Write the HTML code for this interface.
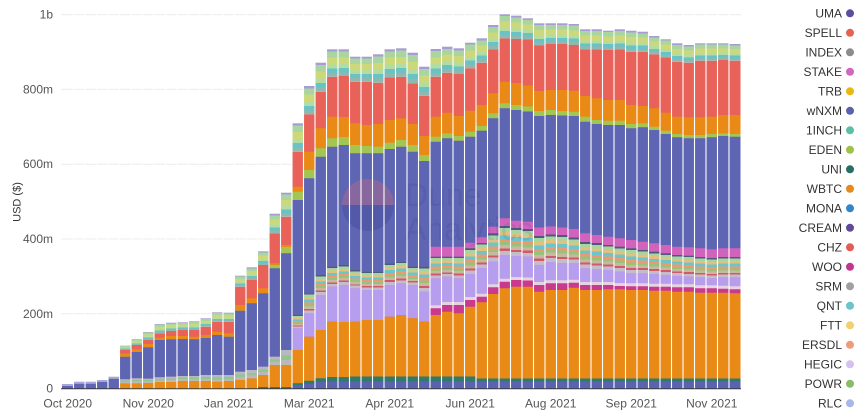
<!DOCTYPE html>
<html><head><meta charset="utf-8"><style>
html,body{margin:0;padding:0;background:#fff;}
svg{display:block;font-family:"Liberation Sans",sans-serif;}
</style></head><body>
<svg width="866" height="414" viewBox="0 0 866 414" xmlns="http://www.w3.org/2000/svg">
<defs>
<linearGradient id="tg" x1="0" y1="0" x2="0" y2="1">
<stop offset="0" stop-color="#a99bd6"/><stop offset=".08" stop-color="#a99bd6"/>
<stop offset=".08" stop-color="#a9d6a0"/><stop offset=".3" stop-color="#a9d6a0"/>
<stop offset=".3" stop-color="#cdd87a"/><stop offset=".55" stop-color="#cdd87a"/>
<stop offset=".55" stop-color="#b3dca3"/><stop offset=".7" stop-color="#b3dca3"/>
<stop offset=".7" stop-color="#69c2c4"/><stop offset=".86" stop-color="#69c2c4"/>
<stop offset=".86" stop-color="#8fb8b0"/><stop offset="1" stop-color="#8fb8b0"/>
</linearGradient>
<linearGradient id="mg" x1="0" y1="0" x2="0" y2="1">
<stop offset="0" stop-color="#4f5a7a"/><stop offset=".07" stop-color="#4f5a7a"/>
<stop offset=".07" stop-color="#a5d6a2"/><stop offset=".2" stop-color="#a5d6a2"/>
<stop offset=".2" stop-color="#e2c07e"/><stop offset=".32" stop-color="#e2c07e"/>
<stop offset=".32" stop-color="#6cc6c9"/><stop offset=".46" stop-color="#6cc6c9"/>
<stop offset=".46" stop-color="#ec9a73"/><stop offset=".56" stop-color="#ec9a73"/>
<stop offset=".56" stop-color="#96c37a"/><stop offset=".66" stop-color="#96c37a"/>
<stop offset=".66" stop-color="#c9b8a0"/><stop offset=".78" stop-color="#c9b8a0"/>
<stop offset=".78" stop-color="#d05a6a"/><stop offset=".86" stop-color="#d05a6a"/>
<stop offset=".86" stop-color="#c4bccb"/><stop offset="1" stop-color="#c4bccb"/>
</linearGradient>
<linearGradient id="m2" x1="0" y1="0" x2="0" y2="1">
<stop offset="0" stop-color="#b7b8c0"/><stop offset=".35" stop-color="#b7b8c0"/>
<stop offset=".35" stop-color="#94c58f"/><stop offset=".65" stop-color="#94c58f"/>
<stop offset=".65" stop-color="#b9b9bb"/><stop offset="1" stop-color="#b9b9bb"/>
</linearGradient>
</defs>

<g stroke="#ececec" stroke-width="1">
<line x1="61" y1="14.6" x2="741" y2="14.6"/>
<line x1="61" y1="89.4" x2="741" y2="89.4"/>
<line x1="61" y1="164.2" x2="741" y2="164.2"/>
<line x1="61" y1="239" x2="741" y2="239"/>
<line x1="61" y1="313.8" x2="741" y2="313.8"/>
</g>

<g font-size="12" fill="#555" text-anchor="end">
<text x="53" y="18.6">1b</text>
<text x="53" y="93.4">800m</text>
<text x="53" y="168.2">600m</text>
<text x="53" y="243">400m</text>
<text x="53" y="317.8">200m</text>
<text x="53" y="392.6">0</text>
</g>
<text transform="translate(20.5,202) rotate(-90)" font-size="11" fill="#333" text-anchor="middle">USD ($)</text>

<path fill="#e9625a" d="M62 388.5V386h11.5V383.7h11.5V383.7h11.5V382h11.5V378.7h11.5V350h11.5V345h11.5V340h11.5V333.3h11.5V331h11.5V330h11.5V330h11.5V326.7h11.5V321.7h11.5V321.7h11.5V286.7h11.5V280h11.5V265h11.5V233.3h11.5V216.7h11.5V151.7h11.5V114.3h11.5V91.7h11.5V76.7h11.5V76h11.5V81.7h11.5V81.7h11.5V82.7h11.5V77.3h11.5V76.7h11.5V83.3h11.5V95.7h11.5V76.7h11.5V72.7h11.5V74h11.5V68.3h11.5V62.7h11.5V49.3h11.5V38.3h11.5V39h11.5V39.5h11.5V45.5h11.5V44h11.5V44h11.5V45h11.5V49.3h11.5V49.3h11.5V50h11.5V49.3h11.5V51.7h11.5V51.7h11.5V54.3h11.5V57.3h11.5V61.7h11.5V62.7h11.5V60.7h11.5V60.7h11.5V60h11.5V60.7h11.5V388.5Z"/>
<path fill="#e98a16" d="M62 388.5V386h11.5V383.7h11.5V383.7h11.5V382h11.5V378.7h11.5V353.5h11.5V349.3h11.5V344h11.5V337.7h11.5V336h11.5V336h11.5V336.7h11.5V335h11.5V331.7h11.5V333.3h11.5V305h11.5V298.3h11.5V288.3h11.5V263.3h11.5V245h11.5V186.7h11.5V151.7h11.5V128.3h11.5V116.7h11.5V117h11.5V123.3h11.5V125h11.5V124h11.5V120h11.5V118.3h11.5V124h11.5V136h11.5V116.7h11.5V112.7h11.5V116h11.5V110.7h11.5V105h11.5V93.3h11.5V81.7h11.5V83h11.5V85.5h11.5V91h11.5V90h11.5V90h11.5V90.7h11.5V96h11.5V98.3h11.5V100h11.5V100h11.5V105h11.5V106h11.5V108.3h11.5V112.7h11.5V116.7h11.5V117.3h11.5V117.3h11.5V116.7h11.5V115h11.5V115h11.5V388.5Z"/>
<path fill="#a3c552" d="M62 388.5V386h11.5V383.7h11.5V383.7h11.5V382h11.5V378.7h11.5V356.7h11.5V352h11.5V347.3h11.5V340h11.5V339.3h11.5V339h11.5V339.3h11.5V338h11.5V335h11.5V336.7h11.5V310.7h11.5V303.3h11.5V293.3h11.5V265h11.5V247h11.5V191.7h11.5V170h11.5V148.3h11.5V138.3h11.5V137h11.5V145h11.5V146h11.5V146.7h11.5V142.7h11.5V140h11.5V145h11.5V155h11.5V136.7h11.5V133.3h11.5V136h11.5V131.7h11.5V126h11.5V113.3h11.5V103.3h11.5V105h11.5V106.5h11.5V111h11.5V110h11.5V111h11.5V111.7h11.5V116.7h11.5V120h11.5V120.7h11.5V120.7h11.5V124h11.5V123.3h11.5V126.7h11.5V130.7h11.5V134h11.5V135h11.5V135h11.5V134h11.5V133.3h11.5V134h11.5V388.5Z"/>
<path fill="#5e65b3" d="M62 388.5V386h11.5V383.7h11.5V383.7h11.5V382h11.5V378.7h11.5V356.7h11.5V352h11.5V347.3h11.5V340h11.5V339.3h11.5V339h11.5V339.3h11.5V338h11.5V335h11.5V336.7h11.5V310.7h11.5V303.3h11.5V293.3h11.5V268.3h11.5V253.3h11.5V200h11.5V178.3h11.5V156.7h11.5V146.7h11.5V145h11.5V153.3h11.5V153.3h11.5V153.3h11.5V149h11.5V146.7h11.5V151.7h11.5V161h11.5V141.7h11.5V138.3h11.5V140.7h11.5V136.7h11.5V130.7h11.5V118.3h11.5V108.3h11.5V110h11.5V111.5h11.5V116h11.5V115h11.5V115.5h11.5V116h11.5V121.7h11.5V124h11.5V125h11.5V125h11.5V128.3h11.5V127.3h11.5V130h11.5V134h11.5V137.3h11.5V138.3h11.5V138.3h11.5V137.3h11.5V136h11.5V136.7h11.5V388.5Z"/>
<path fill="#d263bd" d="M62 388.5h57.5V379.3h11.5V378.3h11.5V378.7h11.5V377.3h11.5V376.7h11.5V376h11.5V376h11.5V375h11.5V375h11.5V375h11.5V371.7h11.5V370h11.5V366.7h11.5V356.7h11.5V350h11.5V315h11.5V293.3h11.5V275h11.5V266.7h11.5V265h11.5V270h11.5V271.7h11.5V271.7h11.5V263.3h11.5V261.7h11.5V266.7h11.5V266.7h11.5V246.7h11.5V246.7h11.5V246.7h11.5V242.7h11.5V237.3h11.5V226.7h11.5V218.3h11.5V220.7h11.5V221.7h11.5V227.5h11.5V226.5h11.5V227.5h11.5V229h11.5V233.3h11.5V235h11.5V236.7h11.5V238.3h11.5V240h11.5V241.7h11.5V243.3h11.5V245h11.5V246.7h11.5V247.3h11.5V248.3h11.5V249.3h11.5V248.3h11.5V248.3h11.5V388.5Z"/>
<path fill="#b69ded" d="M62 388.5h57.5V383.3h11.5V383.3h11.5V383h11.5V382h11.5V382h11.5V381h11.5V381h11.5V381h11.5V381.7h11.5V381h11.5V380h11.5V378.3h11.5V375h11.5V365h11.5V365h11.5V328.3h11.5V313.3h11.5V295h11.5V286.7h11.5V285h11.5V288.3h11.5V290h11.5V290h11.5V285h11.5V283.3h11.5V285h11.5V291.7h11.5V278.3h11.5V276.7h11.5V278.3h11.5V274h11.5V268h11.5V261.7h11.5V255h11.5V256h11.5V256.7h11.5V265h11.5V262h11.5V263h11.5V263h11.5V268.3h11.5V269.3h11.5V270h11.5V271.7h11.5V273.3h11.5V273.3h11.5V274h11.5V275h11.5V276h11.5V276.7h11.5V277.3h11.5V278.3h11.5V277.3h11.5V277.3h11.5V388.5Z"/>
<path fill="#e6d3df" d="M62 388.5h57.5V383.3h11.5V383.3h11.5V383h11.5V382h11.5V382h11.5V381h11.5V381h11.5V381h11.5V381.7h11.5V381h11.5V380h11.5V378.3h11.5V375h11.5V365h11.5V365h11.5V350h11.5V336.7h11.5V330h11.5V321.7h11.5V322h11.5V321.7h11.5V320h11.5V320h11.5V316.7h11.5V315h11.5V318.3h11.5V321.7h11.5V305.3h11.5V302h11.5V302h11.5V297h11.5V293.7h11.5V284.3h11.5V278.7h11.5V277h11.5V277.5h11.5V282h11.5V280.3h11.5V280.3h11.5V279.7h11.5V282h11.5V282h11.5V282h11.5V283h11.5V283.3h11.5V283.3h11.5V283.7h11.5V283.7h11.5V284.3h11.5V284.3h11.5V285.3h11.5V285.3h11.5V285.7h11.5V286.3h11.5V388.5Z"/>
<path fill="#c93a8e" d="M62 388.5h57.5V383.3h11.5V383.3h11.5V383h11.5V382h11.5V382h11.5V381h11.5V381h11.5V381h11.5V381.7h11.5V381h11.5V380h11.5V378.3h11.5V375h11.5V365h11.5V365h11.5V350h11.5V336.7h11.5V330h11.5V321.7h11.5V322h11.5V321.7h11.5V320h11.5V320h11.5V316.7h11.5V315h11.5V318.3h11.5V321.7h11.5V308.3h11.5V305h11.5V305h11.5V300h11.5V296.7h11.5V287.3h11.5V281.7h11.5V280h11.5V280.5h11.5V285h11.5V283.3h11.5V283.3h11.5V282.7h11.5V285h11.5V285h11.5V285h11.5V286h11.5V286.3h11.5V286.3h11.5V286.7h11.5V286.7h11.5V287.3h11.5V287.3h11.5V288.3h11.5V288.3h11.5V288.7h11.5V289.3h11.5V388.5Z"/>
<path fill="#e98a16" d="M62 388.5h57.5V383.3h11.5V383.3h11.5V383h11.5V382h11.5V382h11.5V381h11.5V381h11.5V381h11.5V381.7h11.5V381h11.5V380h11.5V378.3h11.5V375h11.5V365h11.5V365h11.5V350h11.5V336.7h11.5V330h11.5V321.7h11.5V322h11.5V321.7h11.5V320h11.5V320h11.5V316.7h11.5V315h11.5V318.3h11.5V321.7h11.5V315h11.5V311.7h11.5V313.3h11.5V306.7h11.5V302.3h11.5V294h11.5V288.3h11.5V286.7h11.5V286.7h11.5V291.7h11.5V290h11.5V290h11.5V287.7h11.5V290h11.5V290h11.5V289.3h11.5V289.3h11.5V290h11.5V290h11.5V290.7h11.5V290.7h11.5V291.7h11.5V291.7h11.5V292.7h11.5V292.7h11.5V292.7h11.5V293.3h11.5V388.5Z"/>
<path fill="#2f7a6a" d="M257.5 388.5V387h34.5V383.3h11.5V380.7h11.5V378.3h11.5V377h23V376.5h126.5V378.5H740.5V388.5Z"/>
<path fill="#5a63b0" d="M292 388.5V385h11.5V384h11.5V382h11.5V381.5H740.5V388.5Z"/>

<g fill="#a8a6dc">
<rect x="62" y="384" width="11.5" height="2"/>
<rect x="73.5" y="381.7" width="11.5" height="2"/>
<rect x="85" y="381.7" width="11.5" height="2"/>
<rect x="96.5" y="380" width="11.5" height="2"/>
<rect x="108" y="376.7" width="11.5" height="2"/>
</g>

<g fill="url(#tg)">
<rect x="119.5" y="345.7" width="11.5" height="4.3"/>
<rect x="131" y="339.3" width="11.5" height="5.7"/>
<rect x="142.5" y="332" width="11.5" height="8"/>
<rect x="154" y="324" width="11.5" height="9.3"/>
<rect x="165.5" y="322.7" width="11.5" height="8.3"/>
<rect x="177" y="322.3" width="11.5" height="7.7"/>
<rect x="188.5" y="321.3" width="11.5" height="8.7"/>
<rect x="200" y="318.3" width="11.5" height="8.4"/>
<rect x="211.5" y="312.3" width="11.5" height="9.4"/>
<rect x="223" y="312.7" width="11.5" height="9"/>
<rect x="234.5" y="275.7" width="11.5" height="11"/>
<rect x="246" y="267.3" width="11.5" height="12.7"/>
<rect x="257.5" y="251.3" width="11.5" height="13.7"/>
<rect x="269" y="213.7" width="11.5" height="19.6"/>
<rect x="280.5" y="192.7" width="11.5" height="24"/>
<rect x="292" y="123.3" width="11.5" height="28.4"/>
<rect x="303.5" y="86" width="11.5" height="28.3"/>
<rect x="315" y="62.7" width="11.5" height="29"/>
<rect x="326.5" y="49.3" width="11.5" height="27.4"/>
<rect x="338" y="49.3" width="11.5" height="26.7"/>
<rect x="349.5" y="56.7" width="11.5" height="25"/>
<rect x="361" y="56.7" width="11.5" height="25"/>
<rect x="372.5" y="54.3" width="11.5" height="28.4"/>
<rect x="384" y="49.3" width="11.5" height="28"/>
<rect x="395.5" y="48.3" width="11.5" height="28.4"/>
<rect x="407" y="52.7" width="11.5" height="30.6"/>
<rect x="418.5" y="66.7" width="11.5" height="29"/>
<rect x="430" y="49" width="11.5" height="27.7"/>
<rect x="441.5" y="46.7" width="11.5" height="26"/>
<rect x="453" y="48.3" width="11.5" height="25.7"/>
<rect x="464.5" y="42.7" width="11.5" height="25.6"/>
<rect x="476" y="38.3" width="11.5" height="24.4"/>
<rect x="487.5" y="25" width="11.5" height="24.3"/>
<rect x="499" y="14.3" width="11.5" height="24"/>
<rect x="510.5" y="15.7" width="11.5" height="23.3"/>
<rect x="522" y="18.3" width="11.5" height="21.2"/>
<rect x="533.5" y="23.3" width="11.5" height="22.2"/>
<rect x="545" y="23.3" width="11.5" height="20.7"/>
<rect x="556.5" y="23.3" width="11.5" height="20.7"/>
<rect x="568" y="24" width="11.5" height="21"/>
<rect x="579.5" y="29.3" width="11.5" height="20"/>
<rect x="591" y="29.3" width="11.5" height="20"/>
<rect x="602.5" y="30.7" width="11.5" height="19.3"/>
<rect x="614" y="29.3" width="11.5" height="20"/>
<rect x="625.5" y="30.7" width="11.5" height="21"/>
<rect x="637" y="31.7" width="11.5" height="20"/>
<rect x="648.5" y="36" width="11.5" height="18.3"/>
<rect x="660" y="39.3" width="11.5" height="18"/>
<rect x="671.5" y="43.3" width="11.5" height="18.4"/>
<rect x="683" y="45" width="11.5" height="17.7"/>
<rect x="694.5" y="43.3" width="11.5" height="17.4"/>
<rect x="706" y="43.3" width="11.5" height="17.4"/>
<rect x="717.5" y="43.3" width="11.5" height="16.7"/>
<rect x="729" y="44" width="11.5" height="16.7"/>
</g>

<g fill="url(#m2)">
<rect x="119.5" y="379.3" width="11.5" height="4"/>
<rect x="131" y="378.3" width="11.5" height="5"/>
<rect x="142.5" y="378.7" width="11.5" height="4.3"/>
<rect x="154" y="377.3" width="11.5" height="4.7"/>
<rect x="165.5" y="376.7" width="11.5" height="5.3"/>
<rect x="177" y="376" width="11.5" height="5"/>
<rect x="188.5" y="376" width="11.5" height="5"/>
<rect x="200" y="375" width="11.5" height="6"/>
<rect x="211.5" y="375" width="11.5" height="6.7"/>
<rect x="223" y="375" width="11.5" height="6"/>
<rect x="234.5" y="371.7" width="11.5" height="8.3"/>
<rect x="246" y="370" width="11.5" height="8.3"/>
<rect x="257.5" y="366.7" width="11.5" height="8.3"/>
<rect x="269" y="356.7" width="11.5" height="8.3"/>
<rect x="280.5" y="350" width="11.5" height="15"/>
</g>

<g fill="url(#mg)">
<rect x="292" y="315" width="11.5" height="13.3"/>
<rect x="303.5" y="293.3" width="11.5" height="20"/>
<rect x="315" y="275" width="11.5" height="20"/>
<rect x="326.5" y="266.7" width="11.5" height="20"/>
<rect x="338" y="265" width="11.5" height="20"/>
<rect x="349.5" y="270" width="11.5" height="18.3"/>
<rect x="361" y="271.7" width="11.5" height="18.3"/>
<rect x="372.5" y="271.7" width="11.5" height="18.3"/>
<rect x="384" y="263.3" width="11.5" height="21.7"/>
<rect x="395.5" y="261.7" width="11.5" height="21.6"/>
<rect x="407" y="266.7" width="11.5" height="18.3"/>
<rect x="418.5" y="266.7" width="11.5" height="25"/>
<rect x="430" y="256.7" width="11.5" height="21.6"/>
<rect x="441.5" y="256.7" width="11.5" height="20"/>
<rect x="453" y="256.7" width="11.5" height="21.6"/>
<rect x="464.5" y="248.3" width="11.5" height="25.7"/>
<rect x="476" y="243" width="11.5" height="25"/>
<rect x="487.5" y="233.3" width="11.5" height="28.4"/>
<rect x="499" y="226" width="11.5" height="29"/>
<rect x="510.5" y="228" width="11.5" height="28"/>
<rect x="522" y="229" width="11.5" height="27.7"/>
<rect x="533.5" y="236" width="11.5" height="29"/>
<rect x="545" y="234.5" width="11.5" height="27.5"/>
<rect x="556.5" y="235" width="11.5" height="28"/>
<rect x="568" y="237.5" width="11.5" height="25.5"/>
<rect x="579.5" y="242" width="11.5" height="26.3"/>
<rect x="591" y="243" width="11.5" height="26.3"/>
<rect x="602.5" y="245" width="11.5" height="25"/>
<rect x="614" y="246.7" width="11.5" height="25"/>
<rect x="625.5" y="248.3" width="11.5" height="25"/>
<rect x="637" y="250" width="11.5" height="23.3"/>
<rect x="648.5" y="251.7" width="11.5" height="22.3"/>
<rect x="660" y="253.3" width="11.5" height="21.7"/>
<rect x="671.5" y="255" width="11.5" height="21"/>
<rect x="683" y="255.7" width="11.5" height="21"/>
<rect x="694.5" y="257" width="11.5" height="20.3"/>
<rect x="706" y="258" width="11.5" height="20.3"/>
<rect x="717.5" y="257" width="11.5" height="20.3"/>
<rect x="729" y="257" width="11.5" height="20.3"/>
</g>

<path d="M342 205a26 26 0 0 1 52 0z" fill="rgba(235,110,110,0.3)"/>
<path d="M342 205a26 26 0 0 0 52 0z" fill="rgba(35,45,130,0.2)"/>
<text x="405" y="206" font-size="32" fill="rgba(50,60,140,0.13)">Dune</text>
<text x="405" y="240" font-size="32" fill="rgba(50,60,140,0.13)">Analytics</text>

<path stroke="#fff" stroke-width="1.1" fill="none" d="M73.5 8V388.5M85 8V388.5M96.5 8V388.5M108 8V388.5M119.5 8V388.5M131 8V388.5M142.5 8V388.5M154 8V388.5M165.5 8V388.5M177 8V388.5M188.5 8V388.5M200 8V388.5M211.5 8V388.5M223 8V388.5M234.5 8V388.5M246 8V388.5M257.5 8V388.5M269 8V388.5M280.5 8V388.5M292 8V388.5M303.5 8V388.5M315 8V388.5M326.5 8V388.5M338 8V388.5M349.5 8V388.5M361 8V388.5M372.5 8V388.5M384 8V388.5M395.5 8V388.5M407 8V388.5M418.5 8V388.5M430 8V388.5M441.5 8V388.5M453 8V388.5M464.5 8V388.5M476 8V388.5M487.5 8V388.5M499 8V388.5M510.5 8V388.5M522 8V388.5M533.5 8V388.5M545 8V388.5M556.5 8V388.5M568 8V388.5M579.5 8V388.5M591 8V388.5M602.5 8V388.5M614 8V388.5M625.5 8V388.5M637 8V388.5M648.5 8V388.5M660 8V388.5M671.5 8V388.5M683 8V388.5M694.5 8V388.5M706 8V388.5M717.5 8V388.5M729 8V388.5"/>

<line x1="61" y1="388.8" x2="741" y2="388.8" stroke="#3a3a3a" stroke-width="1"/>

<g font-size="12" fill="#555" text-anchor="middle">
<text x="67.75" y="407.5">Oct 2020</text>
<text x="148.25" y="407.5">Nov 2020</text>
<text x="228.75" y="407.5">Jan 2021</text>
<text x="309.25" y="407.5">Mar 2021</text>
<text x="389.75" y="407.5">Apr 2021</text>
<text x="470.25" y="407.5">Jun 2021</text>
<text x="550.75" y="407.5">Aug 2021</text>
<text x="631.25" y="407.5">Sep 2021</text>
<text x="711.75" y="407.5">Nov 2021</text>
</g>

<g font-size="12" fill="#333" text-anchor="end">
<text x="842" y="17.5">UMA</text>
<text x="842" y="37">SPELL</text>
<text x="842" y="56.5">INDEX</text>
<text x="842" y="76">STAKE</text>
<text x="842" y="95.5">TRB</text>
<text x="842" y="115">wNXM</text>
<text x="842" y="134.5">1INCH</text>
<text x="842" y="154">EDEN</text>
<text x="842" y="173.5">UNI</text>
<text x="842" y="193">WBTC</text>
<text x="842" y="212.5">MONA</text>
<text x="842" y="232">CREAM</text>
<text x="842" y="251.5">CHZ</text>
<text x="842" y="271">WOO</text>
<text x="842" y="290.5">SRM</text>
<text x="842" y="310">QNT</text>
<text x="842" y="329.5">FTT</text>
<text x="842" y="349">ERSDL</text>
<text x="842" y="368.5">HEGIC</text>
<text x="842" y="388">POWR</text>
<text x="842" y="407.5">RLC</text>
</g>
<g>
<circle cx="850" cy="13.3" r="4" fill="#5b4e9e"/>
<circle cx="850" cy="32.8" r="4" fill="#e8634f"/>
<circle cx="850" cy="52.3" r="4" fill="#8c8c8c"/>
<circle cx="850" cy="71.8" r="4" fill="#d067c0"/>
<circle cx="850" cy="91.3" r="4" fill="#eab90f"/>
<circle cx="850" cy="110.8" r="4" fill="#5a62ae"/>
<circle cx="850" cy="130.3" r="4" fill="#5cc0a8"/>
<circle cx="850" cy="149.8" r="4" fill="#9cc24a"/>
<circle cx="850" cy="169.3" r="4" fill="#2a6e63"/>
<circle cx="850" cy="188.8" r="4" fill="#e58a1f"/>
<circle cx="850" cy="208.3" r="4" fill="#3387c8"/>
<circle cx="850" cy="227.8" r="4" fill="#634a98"/>
<circle cx="850" cy="247.3" r="4" fill="#e45c55"/>
<circle cx="850" cy="266.8" r="4" fill="#c4358c"/>
<circle cx="850" cy="286.3" r="4" fill="#a0a0a0"/>
<circle cx="850" cy="305.8" r="4" fill="#6cc4c8"/>
<circle cx="850" cy="325.3" r="4" fill="#f0d070"/>
<circle cx="850" cy="344.8" r="4" fill="#ef9c78"/>
<circle cx="850" cy="364.3" r="4" fill="#d6c0f0"/>
<circle cx="850" cy="383.8" r="4" fill="#88bb6a"/>
<circle cx="850" cy="403.3" r="4" fill="#a5b8e8"/>
</g>
</svg>
</body></html>
